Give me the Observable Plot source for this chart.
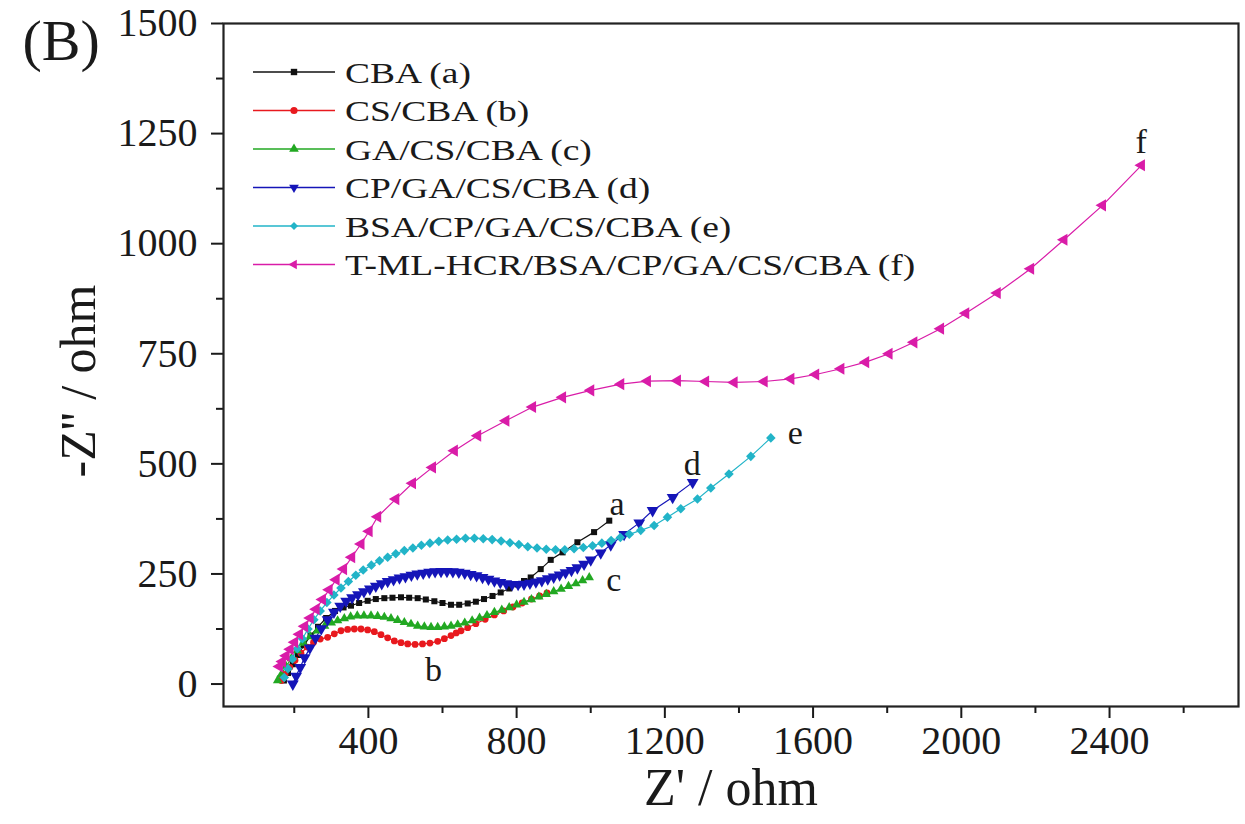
<!DOCTYPE html>
<html>
<head>
<meta charset="utf-8">
<script src="https://cdn.jsdelivr.net/npm/d3@7"></script>
<script src="https://cdn.jsdelivr.net/npm/@observablehq/plot@0.6"></script>
<style>
  html, body { margin: 0; padding: 0; background: #fff; }
  #chart { position: relative; width: 1245px; height: 824px; overflow: hidden; }
  #chart svg { position: absolute; left: 0; top: 0; }
</style>
</head>
<body>
<div id="chart"></div>
<script>
// ---- Data (Z' in ohm, -Z'' in ohm) ----
const seriesNames = ["CBA (a)", "CS/CBA (b)", "GA/CS/CBA (c)", "CP/GA/CS/CBA (d)", "BSA/CP/GA/CS/CBA (e)", "T-ML-HCR/BSA/CP/GA/CS/CBA (f)"];
const seriesColors = ["#111111", "#e8191e", "#22a822", "#1515b8", "#22b4c8", "#d91ca8"];

const a_x = [172,183,196,210,226,244,264,286,310,333, 353,375,398,420,443,465,488,510,533,555, 578,600,623,645,668,690,712,735,757,780, 803,820,838,865,892,924,964,1009,1050];
const a_y = [8,25,45,66,88,110,130,150,166,174, 178,184,189,193,195,196,197,196,195,192, 188,184,180,180,183,187,193,200,208,217, 226,234,242,261,282,299,322,345,371];

const b_x = [165,175,188,202,218,235,252,270,290,308, 326,344,362,380,398,416,434,452,470,488, 506,526,546,566,587,605,623,637,650,668, 690,715,740,765,790,815,840,862,882];
const b_y = [8,22,38,54,70,84,95,102,106,114, 121,124,125,125,123,119,112,105,98,94, 91,90,91,93,97,103,110,116,121,128, 137,147,157,166,175,184,193,200,207];

const c_x = [155,165,178,192,208,225,243,262,282,300, 317,335,352,370,388,407,425,443,461,479, 497,515,533,551,569,587,605,623,641,660, 680,700,720,740,760,780,800,820,840,860, 880,900,920,940,960,978,996];
const c_y = [8,22,40,58,76,93,108,121,132,139, 144,149,153,155,155,155,154,152,149,145, 140,136,132,130,129,129,130,132,135,139, 144,150,156,163,168,174,180,186,192,198, 204,210,216,222,228,235,242];

const d_x = [196,205,216,228,242,257,273,290,307,324, 340,356,372,388,404,420,436,452,468,484, 500,516,532,548,564,580,596,612,628,644, 660,676,692,708,724,740,756,772,788,804, 820,836,852,868,884,900,916,932,948,964, 982,1000,1027,1054,1090,1131,1167,1221,1275];
const d_y = [0,18,38,60,82,104,126,146,163,177, 188,196,203,210,216,222,228,233,237,241, 244,247,250,252,254,255,256,256,255,254, 252,249,246,242,238,234,231,228,226,226, 227,229,232,235,239,243,248,253,258,264, 272,282,298,316,340,366,394,424,458];

const e_x = [173,183,195,208,222,237,253,270,288,307, 326,346,366,386,408,430,452,474,497,520, 543,566,590,614,638,662,686,710,734,758, 782,806,830,855,880,905,930,955,980,1005, 1030,1055,1080,1104,1135,1171,1207,1243,1288,1324, 1373,1432,1486];
const e_y = [15,35,57,80,103,125,146,166,185,202, 218,233,247,259,270,280,288,296,303,309, 315,320,324,327,329,331,331,330,328,325, 321,317,312,309,306,305,305,307,310,314, 320,326,333,340,349,360,379,398,420,445, 477,517,559];

const f_x = [160,168,178,189,201,214,228,243,259,276, 294,313,333,355,380,402,425,474,519,573, 632,695,771,843,924,1000,1081,1153,1234,1310, 1387,1468,1540,1607,1675,1742,1805,1872,1944,2012, 2097,2187,2277,2381,2486];
const f_y = [40,51,64,79,95,113,131,150,170,192, 214,237,261,288,318,347,380,420,456,492, 530,564,598,629,651,667,681,688,689,687, 685,687,693,703,716,731,750,776,807,842, 888,943,1009,1087,1178];

// curve annotations
const noteText = ["a", "b", "c", "d", "e", "f"];
const noteX = [1071, 576, 1062, 1274, 1552, 2485];
const noteY = [409, 31, 237, 500, 569, 1230];

// axis ticks
const xMajor = [400, 800, 1200, 1600, 2000, 2400];
const xMinor = [200, 600, 1000, 1400, 1800, 2200, 2600];
const yMajor = [0, 250, 500, 750, 1000, 1250, 1500];
const yMinor = [125, 375, 625, 875, 1125, 1375];

const xLabel = "Z' / ohm";
const yLabel = "-Z'' / ohm";
const panelLabel = "(B)";

// ---- Marker symbols ----
const sqrt3 = Math.sqrt(3);
const triDown = {draw(ctx, size) {
  const y = -Math.sqrt(size / (sqrt3 * 3));
  ctx.moveTo(0, -2 * y); ctx.lineTo(-sqrt3 * y, y); ctx.lineTo(sqrt3 * y, y); ctx.closePath();
}};
const triLeft = {draw(ctx, size) {
  const y = -Math.sqrt(size / (sqrt3 * 3));
  ctx.moveTo(2 * y, 0); ctx.lineTo(-y, sqrt3 * y); ctx.lineTo(-y, -sqrt3 * y); ctx.closePath();
}};
const symbolTypes = [d3.symbolSquare, d3.symbolCircle, d3.symbolTriangle, triDown, d3.symbolDiamond2, triLeft];
const plotSymbols = ["square", "circle", "triangle", triDown, "diamond2", triLeft];
const markerR = [3.4, 3.4, 3.5, 4.4, 4.3, 4.5];

const xs = [a_x, b_x, c_x, d_x, e_x, f_x];
const ys = [a_y, b_y, c_y, d_y, e_y, f_y];
const rows = seriesNames.flatMap((s, i) => xs[i].map((x, j) => ({s, x, y: ys[i][j]})));
const notes = noteText.map((t, i) => ({t, x: noteX[i], y: noteY[i]}));

const font = "'Liberation Serif', 'Times New Roman', serif";
const ink = "#1a1a1a";
const fmt = d => String(d);

const marks = [
  Plot.axisX(xMinor, {tickSize: 7, strokeWidth: 2, tickFormat: () => "", label: null}),
  Plot.axisX(xMajor, {tickSize: 12, tickPadding: 7, strokeWidth: 2, label: null, fontSize: 40, tickFormat: fmt}),
  Plot.axisY(yMinor, {tickSize: 7, strokeWidth: 2, tickFormat: () => "", label: null}),
  Plot.axisY(yMajor, {tickSize: 12, tickPadding: 14, strokeWidth: 2, label: null, fontSize: 40, tickFormat: fmt}),
  Plot.frame({stroke: "#222", strokeWidth: 2.2}),
  Plot.line(rows, {x: "x", y: "y", z: "s", stroke: "s", strokeWidth: 1.2})
];
seriesNames.forEach((name, i) => {
  marks.push(Plot.dot(rows.filter(d => d.s === name), {
    x: "x", y: "y", symbol: plotSymbols[i], r: markerR[i], fill: seriesColors[i], stroke: "none"
  }));
});
marks.push(
  Plot.text(notes, {x: "x", y: "y", text: "t", fontSize: 34, fill: ink}),
  Plot.text([xLabel], {text: d => d, frameAnchor: "bottom", lineAnchor: "bottom", dy: 98, fontSize: 52, fill: ink}),
  Plot.text([yLabel], {text: d => d, frameAnchor: "left", textAnchor: "middle", lineAnchor: "middle", rotate: -90, dx: -145, dy: 16, fontSize: 50, fill: ink}),
  Plot.text([panelLabel], {text: d => d, frameAnchor: "top-left", textAnchor: "start", lineAnchor: "middle", dx: -201, dy: 18, fontSize: 58, fill: ink})
);

const chart = Plot.plot({
  width: 1245,
  height: 824,
  marginLeft: 223,
  marginRight: 7,
  marginTop: 23,
  marginBottom: 118,
  x: {domain: [9, 2748]},
  y: {domain: [-51, 1500]},
  color: {domain: seriesNames, range: seriesColors},
  style: {fontFamily: font, fontSize: "40px", color: ink, background: "white", overflow: "visible"},
  marks
});
document.getElementById("chart").appendChild(chart);

// ---- Legend (inside the plot frame, top-left) ----
const legend = d3.select("#chart").append("svg")
  .attr("width", 1245).attr("height", 824)
  .style("pointer-events", "none");
seriesNames.forEach((name, i) => {
  const yRow = 72 + i * 38.5;
  const g = legend.append("g");
  g.append("line").attr("x1", 253).attr("x2", 335).attr("y1", yRow).attr("y2", yRow)
    .attr("stroke", seriesColors[i]).attr("stroke-width", 1.3);
  g.append("path")
    .attr("d", d3.symbol().type(symbolTypes[i]).size(Math.PI * 3.6 * 3.6)())
    .attr("transform", `translate(294,${yRow})`)
    .attr("fill", seriesColors[i]);
  g.append("text")
    .attr("transform", `translate(345,${yRow}) scale(1.25,1)`)
    .attr("dy", "0.35em")
    .attr("font-family", font)
    .attr("font-size", 30)
    .attr("fill", ink)
    .text(name);
});
</script>
</body>
</html>
